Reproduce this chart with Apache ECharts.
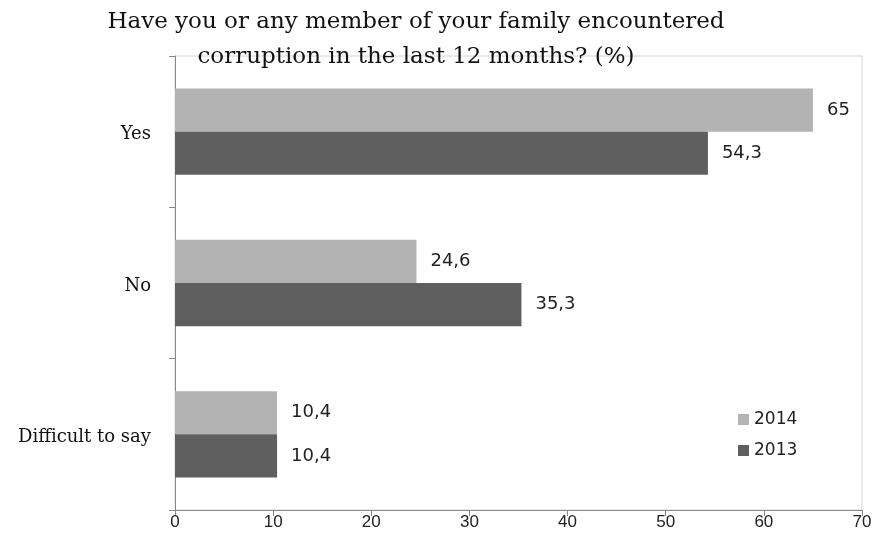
<!DOCTYPE html>
<html><head><meta charset="utf-8">
<script src="https://cdn.jsdelivr.net/npm/echarts@6/dist/echarts.min.js"></script>
<style>html,body{margin:0;padding:0;background:#fff}#c{width:881px;height:551px}</style>
</head><body><div id="c"></div>
<script>
var categories = ['Yes', 'No', 'Difficult to say'];
var values2014 = [65, 24.6, 10.4];
var values2013 = [54.3, 35.3, 10.4];
var xTicks = [0, 10, 20, 30, 40, 50, 60, 70];

var chart = echarts.init(document.getElementById('c'));
var serif = '"DejaVu Serif", "Liberation Serif", serif';
var sans = '"DejaVu Sans", "Liberation Sans", sans-serif';
function fmt(p){ return String(p.value).replace('.', ','); }
chart.setOption({
  animation: false,
  title: {
    text: 'Have you or any member of your family encountered\ncorruption in the last 12 months? (%)',
    left: 411, top: 0, textAlign: 'center',
    textStyle: { fontFamily: serif, fontSize: 23, fontWeight: 'normal', color: '#111', lineHeight: 35 }
  },
  legend: {
    orient: 'vertical', left: 733, top: 406, itemWidth: 11, itemHeight: 11, itemGap: 14,
    icon: 'rect',
    textStyle: { fontFamily: sans, fontSize: 17, color: '#222' },
    data: ['2014', '2013']
  },
  grid: { left: 175, right: 19, top: 56, bottom: 41, show: true, borderColor: '#d4d4d4', borderWidth: 1 },
  xAxis: {
    type: 'value', min: xTicks[0], max: xTicks[xTicks.length-1], interval: 10,
    axisLine: { show: true, lineStyle: { color: '#888' } },
    axisTick: { show: true, length: 6, lineStyle: { color: '#888' } },
    splitLine: { show: false },
    axisLabel: { fontFamily: '"Liberation Sans", sans-serif', fontSize: 17, color: '#222', margin: 4 }
  },
  yAxis: {
    type: 'category', data: categories, inverse: true,
    axisLine: { show: true, lineStyle: { color: '#888' } },
    axisTick: { show: true, length: 6, lineStyle: { color: '#888' } },
    axisLabel: { fontFamily: serif, fontSize: 18, color: '#111', margin: 24,
      formatter: function (v) { return '{a|' + v + '}'; },
      rich: { a: { fontFamily: serif, fontSize: 18, color: '#111', padding: [6, 0, 0, 0] } } }
  },
  series: [
    { name: '2014', type: 'bar', data: values2014, barGap: '0%', barCategoryGap: '43%',
      itemStyle: { color: '#b3b3b3' },
      label: { show: true, position: 'right', distance: 14, formatter: fmt, fontFamily: sans, fontSize: 18, color: '#222' } },
    { name: '2013', type: 'bar', data: values2013,
      itemStyle: { color: '#5f5f5f' },
      label: { show: true, position: 'right', distance: 14, formatter: fmt, fontFamily: sans, fontSize: 18, color: '#222' } }
  ]
});
</script></body></html>
